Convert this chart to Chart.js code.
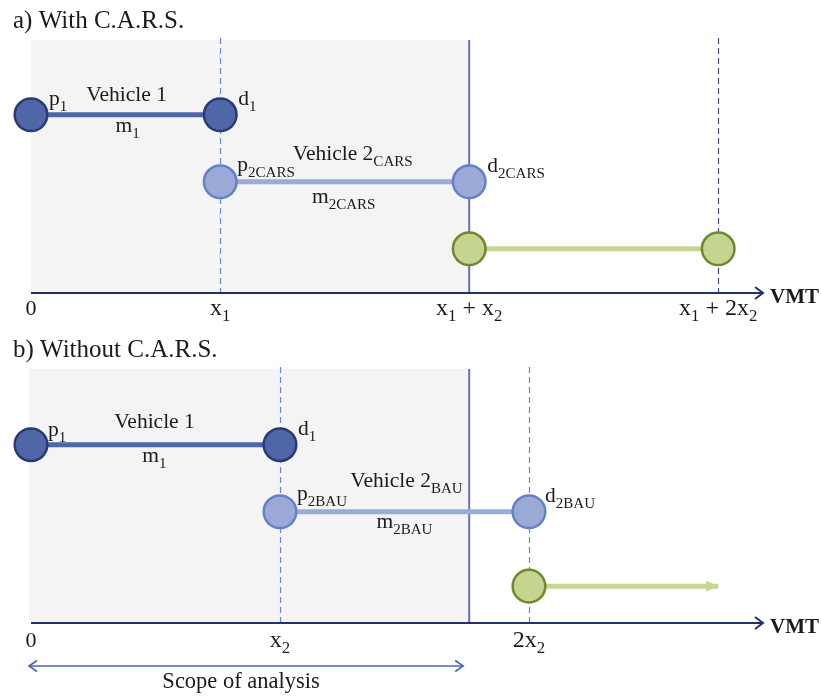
<!DOCTYPE html>
<html>
<head>
<meta charset="utf-8">
<script src="https://cdn.jsdelivr.net/npm/chart.js@4.4.1/dist/chart.umd.min.js"></script>
<style>
  body { margin: 0; background: #fff; }
  canvas { display: block; }
</style>
</head>
<body>
<canvas id="chartA" width="821" height="330"></canvas>
<canvas id="chartB" width="821" height="368"></canvas>
<script>
// distances, in units of x2
const X1 = 0.76;
const X2 = 1;
const AXIS_END = 2.94;
const SCOPE_END = X1 + X2;

// a) with C.A.R.S.
const rowsA = [2.66, 1.66, 0.66];
const vehicle1A = [0, X1];
const vehicle2A = [X1, X1 + X2];
const vehicle3A = [X1 + X2, X1 + 2 * X2];
const ticksA = [0, X1, X1 + X2, X1 + 2 * X2];
const tickLabelsA = ['0', 'x_{1}', 'x_{1} + x_{2}', 'x_{1} + 2x_{2}'];
const dashedA = [X1, X1 + 2 * X2];

// b) without C.A.R.S.
const rowsB = [2.66, 1.66, 0.55];
const vehicle1B = [0, X2];
const vehicle2B = [X2, 2 * X2];
const vehicle3B = [2 * X2, X1 + 2 * X2];   // open ended, drawn as an arrow
const ticksB = [0, X2, 2 * X2];
const tickLabelsB = ['0', 'x_{2}', '2x_{2}'];
const dashedB = [X2, 2 * X2];

const DARK = { fill: '#4f66a9', edge: '#2a3b72', line: '#4d65aa' };
const LIGHT = { fill: '#9aa9d5', edge: '#6381c9', line: '#9babd6' };
const GREEN = { fill: '#c5d590', edge: '#6b8a2b', line: '#c4d68f' };

const SERIF = "'Liberation Serif', 'Times New Roman', serif";
const LABEL_SIZE = 21.5;
const mid = (xs) => (xs[0] + xs[1]) / 2;

// text with _{...} subscripts
function drawRich(ctx, str, x, y, size, align, weight) {
  const parts = str.match(/_\{[^}]*\}|[^_]+/g).map(s =>
    s.startsWith('_{') ? { t: s.slice(2, -1), sub: true } : { t: s, sub: false });
  const font = (sub) => `${weight || 'normal'} ${sub ? size * 0.7 : size}px ${SERIF}`;
  let w = 0;
  parts.forEach(p => { ctx.font = font(p.sub); p.w = ctx.measureText(p.t).width; w += p.w; });
  let cx = align === 'center' ? x - w / 2 : x;
  ctx.textAlign = 'left';
  ctx.textBaseline = 'alphabetic';
  ctx.fillStyle = '#1a1a1a';
  parts.forEach(p => {
    ctx.font = font(p.sub);
    ctx.fillText(p.t, cx, y + (p.sub ? size * 0.27 : 0));
    cx += p.w;
  });
}

function chevron(ctx, x, y, dir, len, half) {
  ctx.beginPath();
  ctx.moveTo(x - dir * len, y - half);
  ctx.lineTo(x, y);
  ctx.lineTo(x - dir * len, y + half);
  ctx.stroke();
}

function vehicle(xs, y, c, radii) {
  return {
    data: xs.map(x => ({ x, y })),
    borderColor: c.line,
    borderWidth: 5,
    pointRadius: radii || 16.3,
    pointBackgroundColor: c.fill,
    pointBorderColor: c.edge,
    pointBorderWidth: 2.5,
    tension: 0,
    clip: false
  };
}

function diagram(p) {
  return {
    id: 'diagram',
    beforeDatasetsDraw(chart) {
      const { ctx, chartArea: a, scales: { x } } = chart;
      ctx.save();
      const x0 = x.getPixelForValue(0) - p.shadeLeft;
      const xs = x.getPixelForValue(SCOPE_END);
      ctx.fillStyle = '#f4f4f4';
      ctx.fillRect(x0, a.top, xs - x0, a.bottom - a.top);

      ctx.lineWidth = 1.2;
      ctx.setLineDash([6, 4]);
      p.dashed.forEach((v, i) => {
        const px = Math.round(x.getPixelForValue(v)) + 0.5;
        ctx.strokeStyle = p.dashColors[i];
        ctx.beginPath();
        ctx.moveTo(px, a.top - 2);
        ctx.lineTo(px, a.bottom);
        ctx.stroke();
      });
      ctx.setLineDash([]);

      ctx.strokeStyle = '#5b74bc';
      ctx.lineWidth = 2;
      ctx.beginPath();
      ctx.moveTo(xs, a.top);
      ctx.lineTo(xs, a.bottom);
      ctx.stroke();

      // VMT axis
      const tip = x.getPixelForValue(AXIS_END);
      ctx.strokeStyle = '#243169';
      ctx.lineWidth = 2;
      ctx.beginPath();
      ctx.moveTo(x.getPixelForValue(0), a.bottom);
      ctx.lineTo(tip, a.bottom);
      ctx.stroke();
      chevron(ctx, tip, a.bottom, 1, 8, 6);
      ctx.restore();
    },
    afterDatasetsDraw(chart) {
      const { ctx, chartArea: a, scales: { x, y } } = chart;
      ctx.save();
      drawRich(ctx, p.title, 13, p.titleY, 25, 'left');
      drawRich(ctx, 'VMT', x.getPixelForValue(AXIS_END) + 7, a.bottom + 10, 21, 'left', 'bold');
      p.ticks.forEach((v, i) => {
        const lab = p.tickLabels[i];
        drawRich(ctx, lab, x.getPixelForValue(v), a.bottom + p.tickDy, lab === '0' ? 22 : 24, 'center');
      });
      p.labels.forEach(l => {
        drawRich(ctx, l.text, x.getPixelForValue(l.x) + l.dx, y.getPixelForValue(l.y) + l.dy, LABEL_SIZE, l.align);
      });

      if (p.arrowDataset !== undefined) {
        const pts = chart.getDatasetMeta(p.arrowDataset).data;
        const end = pts[pts.length - 1];
        ctx.fillStyle = GREEN.line;
        ctx.beginPath();
        ctx.moveTo(end.x, end.y);
        ctx.lineTo(end.x - 12, end.y - 5.5);
        ctx.lineTo(end.x - 12, end.y + 5.5);
        ctx.closePath();
        ctx.fill();
      }

      if (p.scope) {
        const sy = a.bottom + 43;
        const l = x.getPixelForValue(0) - 2;
        const r = x.getPixelForValue(SCOPE_END) - 6;
        ctx.strokeStyle = '#4b65b1';
        ctx.lineWidth = 1.6;
        ctx.beginPath();
        ctx.moveTo(l, sy);
        ctx.lineTo(r, sy);
        ctx.stroke();
        chevron(ctx, l, sy, -1, 8, 5.5);
        chevron(ctx, r, sy, 1, 8, 5.5);
        drawRich(ctx, 'Scope of analysis', (l + r) / 2 - 5, a.bottom + 65, 22.5, 'center');
      }
      ctx.restore();
    }
  };
}

function panel(id, datasets, padding, yMax, p) {
  return new Chart(document.getElementById(id), {
    type: 'line',
    data: { datasets },
    options: {
      responsive: false,
      animation: false,
      events: [],
      layout: { padding },
      plugins: { legend: { display: false }, tooltip: { enabled: false } },
      scales: {
        x: { type: 'linear', min: 0, max: AXIS_END, display: false },
        y: { type: 'linear', min: 0, max: yMax, display: false }
      }
    },
    plugins: [diagram(p)]
  });
}

panel('chartA', [
  vehicle(vehicle1A, rowsA[0], DARK),
  vehicle(vehicle2A, rowsA[1], LIGHT),
  vehicle(vehicle3A, rowsA[2], GREEN)
], { left: 31, right: 58, top: 40, bottom: 37 }, 3.776, {
  title: 'a) With C.A.R.S.',
  titleY: 28,
  shadeLeft: 0,
  dashed: dashedA,
  dashColors: ['#6a86d2', '#3e4d85'],
  ticks: ticksA,
  tickLabels: tickLabelsA,
  tickDy: 22,
  labels: [
    { text: 'p_{1}', x: vehicle1A[0], y: rowsA[0], dx: 18, dy: -10, align: 'left' },
    { text: 'Vehicle 1', x: mid(vehicle1A), y: rowsA[0], dx: 1, dy: -14, align: 'center' },
    { text: 'm_{1}', x: mid(vehicle1A), y: rowsA[0], dx: 2, dy: 17, align: 'center' },
    { text: 'd_{1}', x: vehicle1A[1], y: rowsA[0], dx: 18, dy: -10, align: 'left' },
    { text: 'p_{2CARS}', x: vehicle2A[0], y: rowsA[1], dx: 17, dy: -11, align: 'left' },
    { text: 'Vehicle 2_{CARS}', x: mid(vehicle2A), y: rowsA[1], dx: 8, dy: -22, align: 'center' },
    { text: 'm_{2CARS}', x: mid(vehicle2A), y: rowsA[1], dx: -1, dy: 21, align: 'center' },
    { text: 'd_{2CARS}', x: vehicle2A[1], y: rowsA[1], dx: 18, dy: -10, align: 'left' }
  ]
});

panel('chartB', [
  vehicle(vehicle1B, rowsB[0], DARK),
  vehicle(vehicle2B, rowsB[1], LIGHT),
  vehicle(vehicle3B, rowsB[2], GREEN, [16.3, 0])
], { left: 31, right: 58, top: 39, bottom: 75 }, 3.79, {
  title: 'b) Without C.A.R.S.',
  titleY: 27,
  shadeLeft: 2,
  dashed: dashedB,
  dashColors: ['#6a86d2', '#6a86d2'],
  ticks: ticksB,
  tickLabels: tickLabelsB,
  tickDy: 24,
  arrowDataset: 2,
  scope: true,
  labels: [
    { text: 'p_{1}', x: vehicle1B[0], y: rowsB[0], dx: 17, dy: -9, align: 'left' },
    { text: 'Vehicle 1', x: mid(vehicle1B), y: rowsB[0], dx: -1, dy: -17, align: 'center' },
    { text: 'm_{1}', x: mid(vehicle1B), y: rowsB[0], dx: -1, dy: 17, align: 'center' },
    { text: 'd_{1}', x: vehicle1B[1], y: rowsB[0], dx: 18, dy: -10, align: 'left' },
    { text: 'p_{2BAU}', x: vehicle2B[0], y: rowsB[1], dx: 17, dy: -12, align: 'left' },
    { text: 'Vehicle 2_{BAU}', x: mid(vehicle2B), y: rowsB[1], dx: 2, dy: -25, align: 'center' },
    { text: 'm_{2BAU}', x: mid(vehicle2B), y: rowsB[1], dx: 0, dy: 16, align: 'center' },
    { text: 'd_{2BAU}', x: vehicle2B[1], y: rowsB[1], dx: 16, dy: -10, align: 'left' }
  ]
});
</script>
</body>
</html>
